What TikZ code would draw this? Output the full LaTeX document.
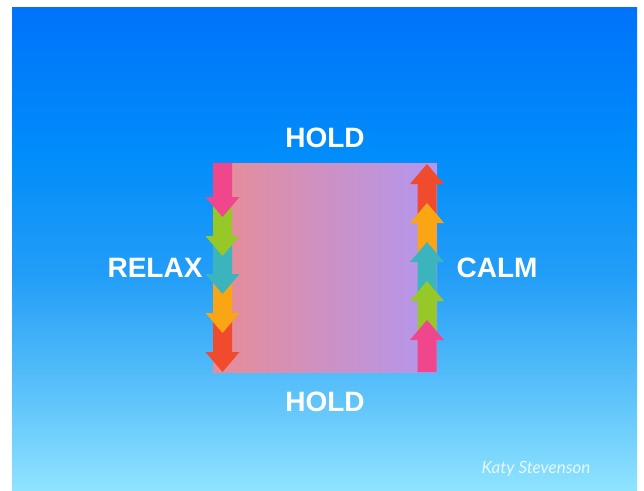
\documentclass[tikz,border=0pt]{standalone}
\usepackage{fontspec}
\setmainfont{Liberation Sans}
\newfontfamily\signfont{Lato}

\definecolor{arrpink}{RGB}{240,70,140}
\definecolor{arrgreen}{RGB}{150,200,40}
\definecolor{arrteal}{RGB}{60,180,190}
\definecolor{arrorange}{RGB}{250,165,20}
\definecolor{arrred}{RGB}{240,75,45}
\definecolor{boxleft}{RGB}{232,140,150}
\definecolor{boxright}{RGB}{178,150,240}

\pgfdeclareverticalshading{skyfade}{100bp}{rgb(0bp)=(0.56,0.89,1);
  rgb(25bp)=(0.56,0.89,1); rgb(35bp)=(0.36,0.76,0.98);
  rgb(47bp)=(0.14,0.62,0.97); rgb(60bp)=(0,0.55,0.98);
  rgb(75bp)=(0,0.45,0.98); rgb(100bp)=(0,0.45,0.98)}

% block arrows : colour, x of axis, shaft end, tip
\newcommand{\blkdown}[4]{%
  \fill[#1] ({#2-9.5},#3) -- ({#2+9.5},#3) -- ({#2+9.5},{#4-20}) -- ({#2+17},{#4-20})
    -- (#2,#4) -- ({#2-17},{#4-20}) -- ({#2-9.5},{#4-20}) -- cycle;}
\newcommand{\blkup}[4]{%
  \fill[#1] ({#2-9.5},#3) -- ({#2+9.5},#3) -- ({#2+9.5},{#4+20}) -- ({#2+17},{#4+20})
    -- (#2,#4) -- ({#2-17},{#4+20}) -- ({#2-9.5},{#4+20}) -- cycle;}

\begin{document}
\begin{tikzpicture}[x=1pt,y=-1pt]
  \tikzset{word/.style={text=white,font=\bfseries\fontsize{28}{30}\selectfont}}
  % Fond : ciel degrade
  \fill[white] (0,0) rectangle (644,490);
  \useasboundingbox (0,0) rectangle (644,490);
  \shade[shading=skyfade] (12,7) rectangle (637,490);

  % Carre de respiration
  \shade[left color=boxleft,right color=boxright] (213,163) rectangle (437,372);

  % Cote gauche : on expire (fleches vers le bas)
  \blkdown{arrred}{222.5}{318}{372}
  \blkdown{arrorange}{222.5}{279}{333}
  \blkdown{arrteal}{222.5}{241}{294}
  \blkdown{arrgreen}{222.5}{202}{256}
  \blkdown{arrpink}{222.5}{163}{217}

  % Cote droit : on inspire (fleches vers le haut)
  \blkup{arrred}{427}{218}{164}
  \blkup{arrorange}{427}{257}{203}
  \blkup{arrteal}{427}{296}{242}
  \blkup{arrgreen}{427}{335}{281}
  \blkup{arrpink}{427}{372}{320}

  % Etiquettes
  \node[word] (holdtop) at (325,138) {HOLD};
  \node[word] (holdbot) at (325,402) {HOLD};
  \node[word] (relax) at (155,268) {RELAX};
  \node[word] (calm) at (497,268) {CALM};
  \node[text=white,opacity=0.8,font=\signfont\itshape\fontsize{17}{19}\selectfont]
    (sign) at (536,469) {Katy Stevenson};
\end{tikzpicture}
\end{document}
